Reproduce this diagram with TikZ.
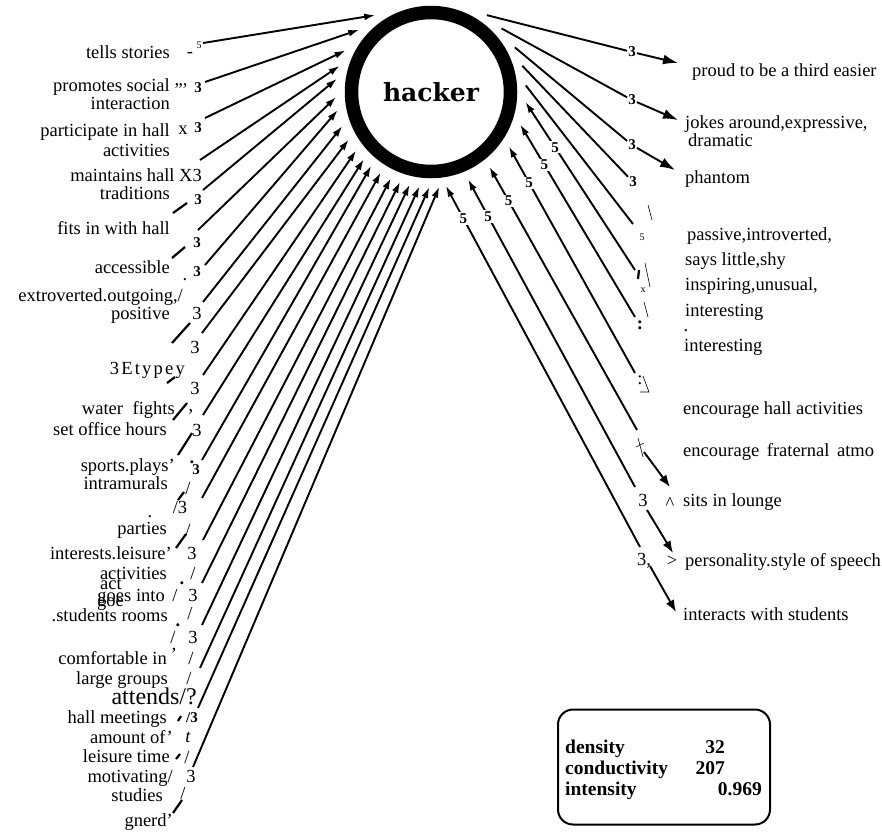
\documentclass[tikz,border=0pt]{standalone}
\usepackage{fontspec}
\setmainfont{Liberation Serif}
\newfontfamily\slab{DejaVu Serif}
\newfontfamily\spaced{Liberation Serif}[LetterSpace=12]
\usetikzlibrary{arrows.meta}

\tikzset{
  lab/.style={font=\fontsize{18.5}{18.5}\selectfont, inner sep=0pt},
  lbl/.style={lab, anchor=base east},
  rbl/.style={lab, anchor=base west},
  bnum/.style={font=\fontsize{15}{15}\selectfont\bfseries, inner sep=1pt},
  rnum/.style={font=\fontsize{18.5}{18.5}\selectfont, inner sep=0pt},
  tiny/.style={font=\fontsize{10}{10}\selectfont, inner sep=0pt},
  statfont/.style={font=\fontsize{19.5}{19.5}\selectfont\bfseries, inner sep=0pt},
  hair/.style={line width=0.6pt},
  frag/.style={line width=2.2pt},
  wire/.style={line width=1.9pt},
  inarr/.style={wire, -{Latex[length=11pt,width=7pt]}},
  outarr/.style={wire, -{Latex[length=15pt,width=10pt]}},
  lowarr/.style={wire, -{Latex[length=12pt,width=9pt]}},
  five/.style={font=\fontsize{15}{15}\selectfont\bfseries, fill=white, inner sep=1.2pt},
}

\begin{document}
\begin{tikzpicture}[x=1pt, y=-1pt]
\fill[white] (0,0) rectangle (882,831);
\useasboundingbox (0,0) rectangle (882,831);

% central concept
\node[draw, circle, line width=13.5pt, minimum size=159pt, inner sep=0pt, outer sep=15.5pt,
      font=\fontsize{25}{25}\selectfont\slab\bfseries] (hk) at (431,92) {hacker};

% ---------- left side: attributes pointing at the concept ----------
\node[lbl] (l1)   at (170,58)  {tells stories};
\node[lbl] (l2a)  at (170,91)  {promotes social};
\node[lbl] (l2b)  at (170,109) {interaction};
\node[lbl] (l3a)  at (170,136) {participate in hall};
\node[lbl] (l3b)  at (170,156) {activities};
\node[lbl] (l4a)  at (202,181) {maintains hall X3};
\node[lbl] (l4b)  at (170,199) {traditions};
\node[lbl] (l5)   at (170,234) {fits in with hall};
\node[lbl] (l6)   at (170,273) {accessible};
\node[lbl] (l7a)  at (183,301) {extroverted.outgoing,/};
\node[lbl] (l7b)  at (170,319) {positive};
\node[lbl, font=\spaced\fontsize{18.5}{18.5}\selectfont] (l8) at (185,374) {3Etypey};
\node[lbl] (l9a)  at (175,414) {water\hspace{5pt} fights};
\node[lbl] (l9b)  at (167,435) {set office hours};
\node[lbl] (l10a) at (175,471) {sports.plays'};
\node[lbl] (l10b) at (168,489) {intramurals};
\node[lbl] (l11)  at (167,534) {parties};
\node[lbl] (l12a) at (172,559) {interests.leisure'};
\node[lbl] (l12b) at (167,579) {activities};
\node[rbl] (l12c) at (100,589) {act};
\node[lbl] (l13a) at (165,601) {goes into};
\node[rbl] (l13b) at (97,606)  {goe};
\node[lbl] (l13c) at (168,621) {.students rooms};
\node[lbl] (l14a) at (167,664) {comfortable in};
\node[lbl] (l14b) at (168,684) {large groups};
\node[lbl, font=\fontsize{24}{24}\selectfont] (l15a) at (197,704) {attends/?};
\node[lbl] (l15b) at (167,723) {hall meetings};
\node[lbl] (l16a) at (173,743) {amount of'};
\node[lbl] (l16b) at (170,762) {leisure time};
\node[lbl] (l17a) at (173,782) {motivating/};
\node[lbl] (l17b) at (163,801) {studies};
\node[lbl] (l18)  at (173,826) {gnerd'};

% strength marks beside the left lines
\node[rnum] (m1) at (190,55) {-};
\node[tiny] (m2) at (199,45) {5};
\node[rnum, anchor=base] (m3) at (181,85) {,,,};
\node[bnum] (m4) at (198,88) {3};
\node[rnum] (m5) at (183,130) {x};
\node[bnum] (m6) at (198,128) {3};
\node[bnum] (m7) at (198,200) {3};
\node[bnum] (m8) at (197,243) {3};
\node[bnum] (m9) at (197,272) {3};
\node[rnum] (m10) at (185,280) {.};
\node[rnum] (m11) at (197,313) {3};
\node[rnum] (m12) at (195,347) {3};
\node[rnum] (m13) at (195,388) {3};
\node[rnum] (m14) at (191,412) {,};
\node[rnum] (m15) at (197,430) {3};
\node[bnum] (m16) at (196,470) {3};
\node[rnum, font=\bfseries\fontsize{18.5}{18.5}\selectfont] (m17) at (192,462) {.};
\node[rnum] (m17b) at (188,488) {/};
\node[rnum] (m18) at (180,507) {/3};
\node[rnum] (m19) at (150,517) {.};
\node[rnum] (m19b) at (188,530) {/};
\node[rnum] (m20) at (192,553) {3};
\node[rnum] (m21) at (193,573) {/};
\node[rnum, font=\bfseries\fontsize{18.5}{18.5}\selectfont] (m22) at (182,583) {.};
\node[rnum] (m23) at (175,595) {/};
\node[rnum] (m24) at (193,595) {3};
\node[rnum] (m25) at (190,613) {/};
\node[rnum, font=\bfseries\fontsize{18.5}{18.5}\selectfont] (m26) at (178,625) {.};
\node[rnum] (m27) at (173,637) {/};
\node[rnum] (m28) at (193,637) {3};
\node[rnum] (m29) at (174,654) {'};
\node[rnum] (m30) at (191,658) {/};
\node[rnum] (m31) at (189,678) {/};
\node[bnum] (m32) at (192,718) {/3};
\node[rnum, font=\itshape\fontsize{18.5}{18.5}\selectfont] (m33) at (188,737) {t};
\node[rnum] (m34) at (187,757) {/};
\node[rnum] (m35) at (191,776) {3};
\node[rnum] (m36) at (183,793) {/};

% broken line fragments
\draw[frag] (173,213) -- (187,203);
\draw[frag] (172,258) -- (185,247);
\draw[frag] (172,343) -- (190,323);
\draw[frag] (167,383) -- (175,377);
\draw[frag] (173,420) -- (187,403);
\draw[frag] (178,455) -- (192,433);
\draw[frag] (178,500) -- (184,492);
\draw[frag] (176,548) -- (186,534);
\draw[frag] (178,721) -- (181,716);
\draw[frag] (176,759) -- (180,754);
\draw[frag] (173,813) -- (182,800);

% line origins on the left
\coordinate (s1)  at (203,43);
\coordinate (s2)  at (205,82);
\coordinate (s3)  at (205,118);
\coordinate (s4)  at (200,160);
\coordinate (s5)  at (203,190);
\coordinate (s6)  at (198,230);
\coordinate (s7)  at (205,265);
\coordinate (s8)  at (203,302);
\coordinate (s9)  at (202,333);
\coordinate (s10) at (203,375);
\coordinate (s11) at (203,415);
\coordinate (s12) at (202,460);
\coordinate (s13) at (202,498);
\coordinate (s14) at (203,540);
\coordinate (s15) at (202,583);
\coordinate (s16) at (202,625);
\coordinate (s17) at (200,668);
\coordinate (s18) at (198,708);
\coordinate (s19) at (193,767);

\draw[inarr] (s1)  -- (hk.126.7);
\draw[inarr] (s2)  -- (hk.139.5);
\draw[inarr] (s3)  -- (hk.154.3);
\draw[inarr] (s4)  -- (hk.164.3);
\draw[inarr] (s5)  -- (hk.172.3);
\draw[inarr] (s6)  -- (hk.183.7);
\draw[inarr] (s7)  -- (hk.191.2);
\draw[inarr] (s8)  -- (hk.201.7);
\draw[inarr] (s9)  -- (hk.210.6);
\draw[inarr] (s10) -- (hk.218.1);
\draw[inarr] (s11) -- (hk.225.9);
\draw[inarr] (s12) -- (hk.231.8);
\draw[inarr] (s13) -- (hk.238.4);
\draw[inarr] (s14) -- (hk.245);
\draw[inarr] (s15) -- (hk.251.6);
\draw[inarr] (s16) -- (hk.257.5);
\draw[inarr] (s17) -- (hk.263.5);
\draw[inarr] (s18) -- (hk.269.4);
\draw[inarr] (s19) -- (hk.275.1);

% ---------- right side ----------
\node[rbl] (pr)  at (692,76)  {proud to be a third easier};
\node[rbl] (jk1) at (685,128) {jokes around,expressive,};
\node[rbl] (jk2) at (688,146) {dramatic};
\node[rbl] (ph)  at (685,183) {phantom};
\node[rbl] (pa)  at (687,240) {passive,introverted,};
\node[rbl] (sa)  at (685,265) {says little,shy};
\node[rbl] (ins) at (685,290) {inspiring,unusual,};
\node[rbl] (it1) at (685,316) {interesting};
\node[rnum] (itd) at (686,331) {.};
\node[rbl] (it2) at (684,351) {interesting};
\node[rbl] (eh)  at (683,414) {encourage hall activities};
\node[rbl] (ef)  at (683,456) {encourage\hspace{3pt} fraternal\hspace{3pt} atmo};
\node[rbl] (sl)  at (683,506) {sits in lounge};
\node[rbl] (ps)  at (685,566) {personality.style of speech};
\node[rbl] (ia)  at (683,620) {interacts with students};

% outgoing lines with strength 3
\node[bnum] (ra) at (632,52)  {3};
\node[bnum] (rb) at (632,100) {3};
\node[bnum] (rc) at (632,145) {3};
\node[bnum] (rd) at (633,182) {3};
\coordinate (ce) at (633,224);
\node[tiny] (re) at (642,237) {5};
\draw[wire] (hk.54)   -- (ra);
\draw[wire] (hk.42.8) -- (rb);
\draw[wire] (hk.28.2) -- (rc);
\draw[wire] (hk.16.5) -- (rd);
\draw[wire] (hk.4.2)  -- (ce);
\coordinate (ta) at (678,63);
\coordinate (tb) at (678,120);
\coordinate (tc) at (675,170);
\draw[outarr] (ra) -- (ta);
\draw[outarr] (rb) -- (tb);
\draw[outarr] (rc) -- (tc);

% incoming lines with strength 5
\coordinate (e6)  at (635,270);
\coordinate (e7)  at (635,317);
\coordinate (e8)  at (635,373);
\coordinate (e9)  at (637,430);
\coordinate (e10) at (635,487);
\coordinate (e11) at (640,547);
\draw[inarr] (e6)  -- node[five, pos=.73] (f6)  {5} (hk.354.2);
\draw[inarr] (e7)  -- node[five, pos=.79] (f7)  {5} (hk.340.8);
\draw[inarr] (e8)  -- node[five, pos=.84] (f8)  {5} (hk.325.2);
\draw[inarr] (e9)  -- node[five, pos=.87] (f9)  {5} (hk.308.5);
\draw[inarr] (e10) -- node[five, pos=.88] (f10) {5} (hk.293.4);
\draw[inarr] (e11) -- node[five, pos=.91] (f11) {5} (hk.279);

% marks at the lower ends
\draw[hair] (648,205) -- (652,220);
\draw[frag] (639,270) -- (638,279);
\draw[hair] (645,263) -- (650,287);
\node[tiny] (rx) at (643,290) {x};
\draw[hair] (644,302) -- (648,317);
\node[rnum, font=\bfseries\fontsize{18.5}{18.5}\selectfont] (rc1) at (640,325) {:};
\node[rnum] (rc2) at (640,380) {:};
\draw[hair] (643,376) -- (649,392) -- (640,392);
\draw[hair] (638,438) -- (643,457);
\draw[hair] (636,447) -- (644,443);
\node[rnum] (r3s) at (643,500) {3};
\node[rnum] (rcar) at (670,503) {\textasciicircum};
\node[rnum] (r3p) at (644,561) {3,};
\node[rnum] (rgt) at (672,561) {>};

\coordinate (p1) at (644,452);
\coordinate (q1) at (670,487);
\coordinate (p2) at (647,510);
\coordinate (q2) at (673,553);
\coordinate (p3) at (650,566);
\coordinate (q3) at (676,612);
\draw[lowarr] (p1) -- (q1);
\draw[lowarr] (p2) -- (q2);
\draw[lowarr] (p3) -- (q3);

% ---------- measures ----------
\node[draw, line width=2pt, rounded corners=15pt, minimum width=212pt, minimum height=115pt,
      inner sep=0pt] (stats) at (664,767) {};
\node[statfont, anchor=base west] (sd)  at (565,753) {density};
\node[statfont, anchor=base east] (sdv) at (725,753) {32};
\node[statfont, anchor=base west] (sc)  at (565,774) {conductivity};
\node[statfont, anchor=base east] (scv) at (725,774) {207};
\node[statfont, anchor=base west] (si)  at (565,795) {intensity};
\node[statfont, anchor=base east] (siv) at (762,795) {0.969};
\end{tikzpicture}
\end{document}
